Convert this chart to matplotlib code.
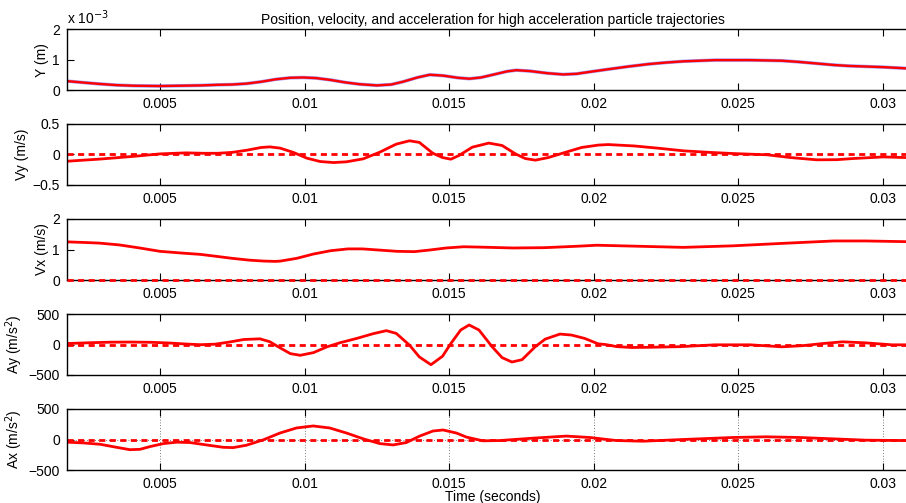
import numpy as np
import matplotlib
matplotlib.use("Agg")
import matplotlib.pyplot as plt

plt.rcParams['font.family'] = ['Liberation Sans', 'DejaVu Sans']
plt.rcParams['font.size'] = 10
plt.rcParams['lines.solid_joinstyle'] = 'round'
plt.rcParams['lines.solid_capstyle'] = 'round'
plt.rcParams['axes.labelpad'] = 2.5

# ---- data (time in seconds)

t_y = [0.0018, 0.0024, 0.0029, 0.0035, 0.0041, 0.0050, 0.0057, 0.0064, 0.0070, 0.0075,
       0.0080, 0.0085, 0.0090, 0.0095, 0.00995, 0.0104, 0.0109, 0.0114, 0.0119, 0.0125,
       0.0130, 0.0134, 0.0139, 0.01433, 0.0148, 0.0153, 0.0157, 0.0161, 0.0166, 0.0170,
       0.01732, 0.0178, 0.0184, 0.01894, 0.0194, 0.0199, 0.0205, 0.0212, 0.0219, 0.0225,
       0.0231, 0.0242, 0.0254, 0.0265, 0.0271, 0.0277, 0.0283, 0.0288, 0.0294, 0.0300,
       0.0306, 0.0312]
y_pos = [0.30, 0.25, 0.21, 0.17, 0.15, 0.14, 0.15, 0.16, 0.18, 0.19,
         0.22, 0.28, 0.36, 0.41, 0.42, 0.40, 0.34, 0.26, 0.20, 0.16,
         0.19, 0.28, 0.42, 0.51, 0.48, 0.41, 0.38, 0.42, 0.53, 0.62,
         0.66, 0.63, 0.56, 0.52, 0.54, 0.61, 0.69, 0.78, 0.86, 0.91,
         0.95, 0.99, 0.99, 0.97, 0.93, 0.88, 0.83, 0.80, 0.78, 0.76,
         0.73, 0.70]   # x 10^-3 m

t_vy = [0.0018, 0.0029, 0.0041, 0.0050, 0.0059, 0.0065, 0.0070, 0.0075, 0.0080, 0.0085,
        0.0088, 0.00916, 0.00962, 0.01008, 0.01054, 0.0110, 0.01145, 0.01203, 0.0126, 0.01317,
        0.01363, 0.01397, 0.01443, 0.01477, 0.01506, 0.01534, 0.0158, 0.01637, 0.01683, 0.01729,
        0.01763, 0.01798, 0.01843, 0.0190, 0.01958, 0.02015, 0.0205, 0.0214, 0.0223, 0.0231,
        0.0240, 0.0248, 0.0260, 0.0268, 0.0277, 0.0284, 0.0290, 0.0300, 0.0308, 0.0312]
vy = [-0.11, -0.076, -0.03, 0.01, 0.027, 0.02, 0.02, 0.035, 0.07, 0.115,
      0.125, 0.104, 0.033, -0.06, -0.115, -0.132, -0.12, -0.071, 0.038, 0.17,
      0.225, 0.198, 0.022, -0.05, -0.077, -0.016, 0.12, 0.187, 0.148, 0.011,
      -0.066, -0.093, -0.05, 0.033, 0.115, 0.154, 0.163, 0.14, 0.10, 0.06,
      0.035, 0.016, -0.005, -0.05, -0.087, -0.085, -0.065, -0.04, -0.05, -0.05]

t_vx = [0.0018, 0.0024, 0.0029, 0.0036, 0.0043, 0.0050, 0.0058, 0.0064, 0.0070, 0.0075,
        0.0081, 0.0086, 0.0090, 0.00916, 0.00973, 0.0103, 0.0109, 0.0115, 0.0120, 0.0126,
        0.0132, 0.0138, 0.0143, 0.0149, 0.0155, 0.0160, 0.0172, 0.0183, 0.0195, 0.0201,
        0.0214, 0.0231, 0.0248, 0.0265, 0.0283, 0.0294, 0.0312]
vx = [1.25, 1.23, 1.21, 1.15, 1.05, 0.94, 0.88, 0.84, 0.77, 0.71,
      0.65, 0.62, 0.61, 0.62, 0.71, 0.85, 0.96, 1.02, 1.02, 0.98,
      0.94, 0.93, 0.98, 1.05, 1.09, 1.08, 1.05, 1.06, 1.11, 1.14,
      1.11, 1.07, 1.12, 1.20, 1.28, 1.28, 1.25]

t_ay = [0.0018, 0.0025, 0.0033, 0.0040, 0.0047, 0.0053, 0.0059, 0.0064, 0.0069, 0.0074,
        0.0079, 0.00846, 0.0088, 0.0091, 0.00951, 0.00985, 0.01031, 0.01077, 0.01122, 0.0118,
        0.01237, 0.01283, 0.01317, 0.01363, 0.01397, 0.01437, 0.01477, 0.01506, 0.0154, 0.01569,
        0.01603, 0.01649, 0.01683, 0.01717, 0.01752, 0.01797, 0.01832, 0.01883, 0.01923, 0.01969,
        0.02015, 0.0204, 0.0208, 0.0213, 0.0220, 0.0230, 0.0242, 0.0254, 0.0265, 0.0272,
        0.0279, 0.0286, 0.0294, 0.0303, 0.0312]
ay = [16, 28, 38, 40, 36, 25, 8, -3, 5, 40,
      82, 93, 45, -40, -150, -177, -133, -39, 28, 99,
      177, 227, 182, -11, -204, -331, -193, 17, 238, 320,
      238, -39, -215, -287, -249, -39, 88, 171, 155, 99,
      11, 0, -35, -49, -45, -35, -5, -5, -38, -20,
      15, 44, 27, -5, -5]

t_ax = [0.0018, 0.00235, 0.00293, 0.0035, 0.00396, 0.00431, 0.00465, 0.00512, 0.00558, 0.00604,
        0.00661, 0.00719, 0.00753, 0.00799, 0.00857, 0.00915, 0.00972, 0.0103, 0.01087, 0.01145,
        0.01203, 0.0126, 0.01306, 0.01352, 0.01398, 0.01444, 0.01479, 0.01525, 0.0156, 0.01617,
        0.01675, 0.0179, 0.01905, 0.01986, 0.02078, 0.0217, 0.02308, 0.02481, 0.02596, 0.02711,
        0.02826, 0.0294, 0.03075, 0.0312]
ax_acc = [-44, -56, -78, -128, -167, -161, -117, -67, -44, -50,
          -89, -128, -133, -94, -6, 106, 189, 222, 189, 106,
          11, -67, -89, -50, 56, 139, 156, 106, 39, -22,
          -17, 22, 56, 33, -17, -28, 0, 33, 44, 33,
          11, -11, -17, -17]

xticks = [0.005, 0.01, 0.015, 0.02, 0.025, 0.03]
xticklabels = ['0.005', '0.01', '0.015', '0.02', '0.025', '0.03']
xlim = (0.001787, 0.03121)

# ---- figure layout (axes run slightly past the right edge, as in the reference)

fig = plt.figure(figsize=(9.06, 5.03), dpi=100)
left, width, height = 67 / 906, (918 - 67) / 906, 61 / 503
tops = [29.3, 124, 219, 314, 409]
axes = [fig.add_axes([left, 1 - (tp + 61) / 503, width, height]) for tp in tops]

red = '#ff0000'
lw = 2.0
dash = (0, (2.2, 1.6))

a = axes[0]
a.plot(t_y, y_pos, color='#6060ff', lw=2.5, alpha=0.6)
a.plot(t_y, y_pos, color=red, lw=1.7)
a.set_ylim(0, 2)
a.set_yticks([0, 1, 2])
a.set_ylabel('Y (m)')
a.text(0, 1.03, r'x 10$^{-3}$', transform=a.transAxes, fontsize=10, va='bottom')
a.set_title('Position, velocity, and acceleration for high acceleration particle trajectories',
            fontsize=10, pad=4)

a = axes[1]
a.plot(t_vy, vy, color=red, lw=lw)
a.axhline(0, color=red, lw=lw, ls=dash)
a.set_ylim(-0.5, 0.5)
a.set_yticks([-0.5, 0, 0.5])
a.set_yticklabels(['\u22120.5', '0', '0.5'])
a.set_ylabel('Vy (m/s)')

a = axes[2]
a.plot(t_vx, vx, color=red, lw=lw)
a.axhline(0, color=red, lw=lw, ls=dash, clip_on=False, zorder=3)
a.set_ylim(0, 2)
a.set_yticks([0, 1, 2])
a.set_ylabel('Vx (m/s)')

a = axes[3]
a.plot(t_ay, ay, color=red, lw=lw)
a.axhline(0, color=red, lw=lw, ls=dash)
a.set_ylim(-500, 500)
a.set_yticks([-500, 0, 500])
a.set_yticklabels(['\u2212500', '0', '500'])
a.set_ylabel(r'Ay (m/s$^2$)')

a = axes[4]
a.grid(True, color='k', ls=(0, (1, 3)), lw=0.5)
a.plot(t_ax, ax_acc, color=red, lw=lw)
a.axhline(0, color=red, lw=lw, ls=dash)
a.set_ylim(-500, 500)
a.set_yticks([-500, 0, 500])
a.set_yticklabels(['\u2212500', '0', '500'])
a.set_ylabel(r'Ax (m/s$^2$)')
a.set_xlabel('Time (seconds)', labelpad=-1)

for a in axes:
    a.set_xlim(*xlim)
    a.set_xticks(xticks)
    a.set_xticklabels(xticklabels)
    a.tick_params(direction='in', top=True, right=True, length=5, width=0.8, pad=5)
    for s in a.spines.values():
        s.set_linewidth(1.0)

fig.savefig('out.png', dpi=100)
